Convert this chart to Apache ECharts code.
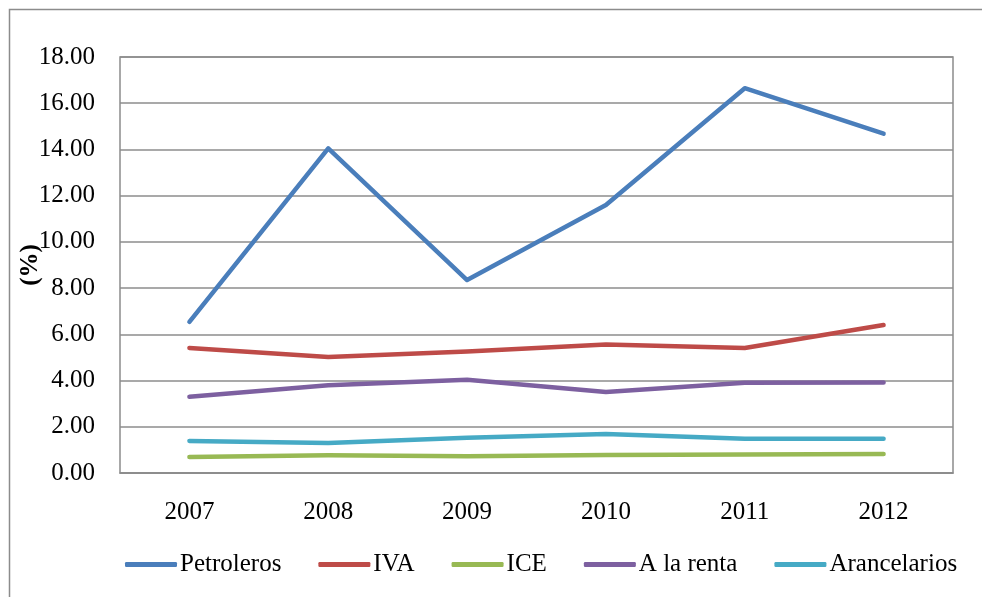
<!DOCTYPE html>
<html>
<head>
<meta charset="utf-8">
<script src="https://cdn.jsdelivr.net/npm/echarts@6/dist/echarts.min.js"></script>
<style>
  html, body { margin: 0; padding: 0; background: #fff; }
  #chart { width: 982px; height: 597px; }
</style>
</head>
<body>
<div id="chart"></div>
<script>
// 数据
var years = ['2007', '2008', '2009', '2010', '2011', '2012'];
var petroleros = [6.54, 14.05, 8.35, 11.6, 16.65, 14.68];
var iva = [5.41, 5.02, 5.26, 5.56, 5.41, 6.4];
var ice = [0.69, 0.77, 0.73, 0.78, 0.8, 0.82];
var renta = [3.3, 3.8, 4.03, 3.5, 3.9, 3.92];
var arancelarios = [1.39, 1.3, 1.52, 1.69, 1.48, 1.48];

var myChart = echarts.init(document.getElementById('chart'));
var font = 'Liberation Serif';

function mkLine(name, data, color) {
    return {
        name: name,
        type: 'line',
        data: data,
        symbol: 'none',
        itemStyle: {color: color},
        lineStyle: {color: color, width: 4.5, cap: 'round', join: 'round'}
    };
}

myChart.setOption({
    animation: false,
    textStyle: {fontFamily: font},
    graphic: [
        {
            type: 'rect',
            shape: {x: 9.5, y: 9.5, width: 1000, height: 700},
            style: {fill: 'none', stroke: '#8c8c8c', lineWidth: 1.5},
            silent: true
        }
    ],
    grid: {
        left: 120,
        right: 29,
        top: 57,
        bottom: 124,
        show: true,
        borderColor: '#8c8c8c',
        borderWidth: 1.5
    },
    legend: {
        bottom: 15,
        left: 120,
        itemWidth: 52,
        itemHeight: 5,
        itemGap: 37,
        icon: 'roundRect',
        textStyle: {fontFamily: font, fontSize: 25, color: '#000', padding: [0, 0, 0, -2]},
        data: ['Petroleros', 'IVA', 'ICE', 'A la renta', 'Arancelarios']
    },
    xAxis: {
        type: 'category',
        data: years,
        boundaryGap: true,
        axisLine: {lineStyle: {color: '#8c8c8c', width: 1.5}},
        axisTick: {show: false},
        axisLabel: {fontFamily: font, fontSize: 25, color: '#000', margin: 27}
    },
    yAxis: {
        type: 'value',
        min: 0,
        max: 18,
        interval: 2,
        name: '(%)',
        nameLocation: 'middle',
        nameGap: 77,
        nameRotate: 90,
        nameMoveOverlap: false,
        nameTextStyle: {fontFamily: font, fontSize: 25, fontWeight: 'bold', color: '#000'},
        axisLine: {show: false},
        axisTick: {show: false},
        splitLine: {lineStyle: {color: '#8c8c8c', width: 1.5}},
        axisLabel: {
            fontFamily: font, fontSize: 25, color: '#000', margin: 25,
            formatter: function (v) { return v.toFixed(2); }
        }
    },
    series: [
        mkLine('Petroleros', petroleros, '#4a7ebb'),
        mkLine('IVA', iva, '#be4b48'),
        mkLine('ICE', ice, '#98b954'),
        mkLine('A la renta', renta, '#7d60a0'),
        mkLine('Arancelarios', arancelarios, '#46aac5')
    ]
});
</script>
</body>
</html>
